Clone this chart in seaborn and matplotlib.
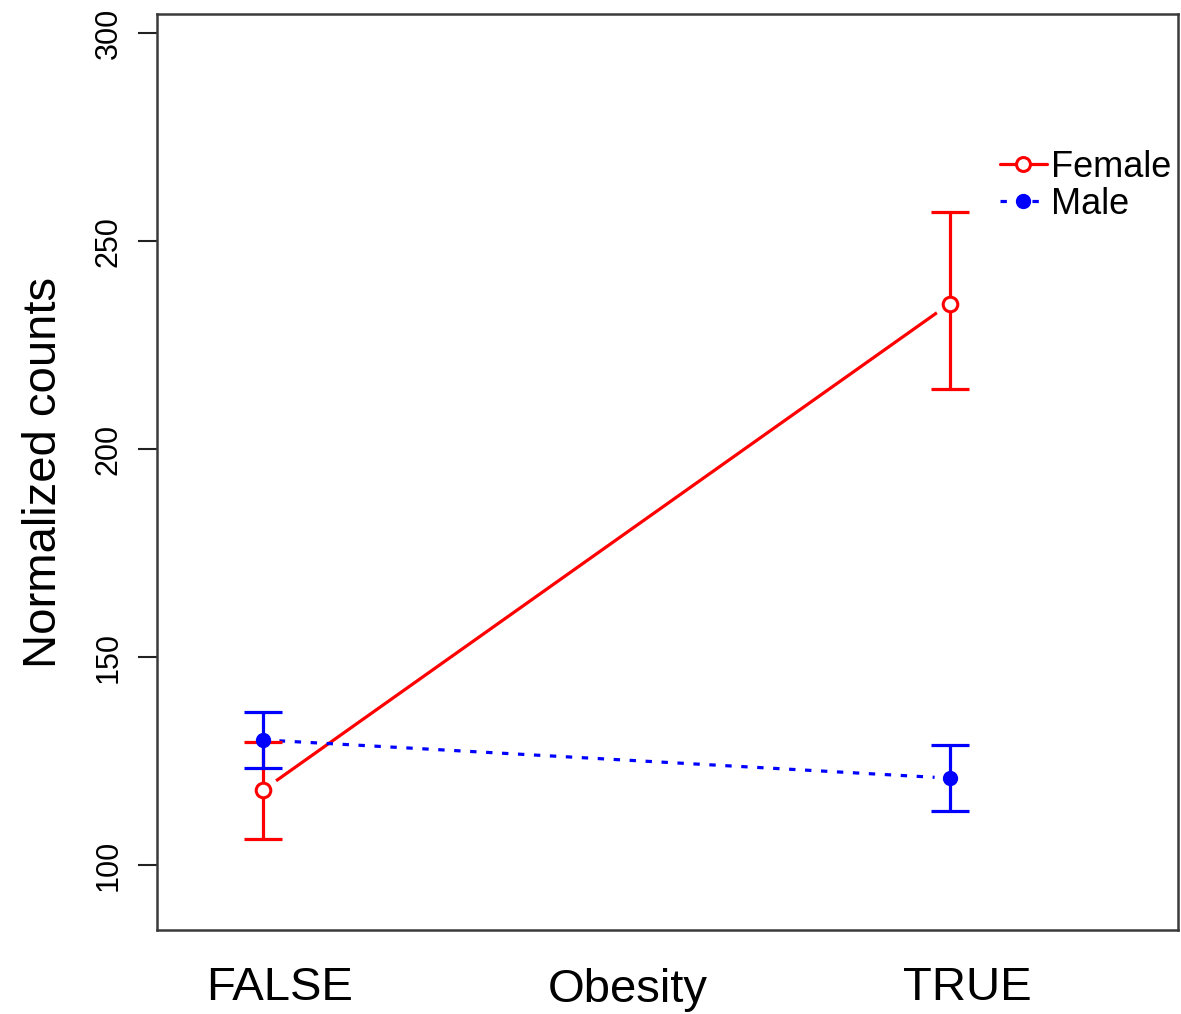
import matplotlib
matplotlib.use("Agg")
import matplotlib.pyplot as plt
import matplotlib.transforms as mtransforms
from matplotlib.lines import Line2D
import numpy as np
import pandas as pd
import seaborn as sns

# Group means and interval bounds of normalized counts by obesity status and sex
obesity = ["FALSE", "TRUE"]
sexes = ["Female", "Male"]
female_mean = [118.0, 235.0]
female_lower = [106.3, 214.4]
female_upper = [129.6, 257.0]
male_mean = [130.1, 120.9]
male_lower = [123.3, 113.0]
male_upper = [136.8, 128.9]
y_ticks = [100, 150, 200, 250, 300]

colors = {"Female": "#ff0000", "Male": "#0000ff"}
line_styles = {"Female": "", "Male": (2, 3)}

df = pd.DataFrame({
    "Obesity": obesity * 2,
    "Sex": ["Female"] * 2 + ["Male"] * 2,
    "counts": female_mean + male_mean,
    "lower": female_lower + male_lower,
    "upper": female_upper + male_upper,
})

sns.set_theme(style="white")
plt.rcParams["font.family"] = ["Liberation Sans", "DejaVu Sans"]
plt.rcParams["text.color"] = "black"
plt.rcParams["axes.labelcolor"] = "black"
plt.rcParams["xtick.color"] = "black"
plt.rcParams["ytick.color"] = "black"

fig = plt.figure(figsize=(11.81, 10.14), dpi=100)
ax = fig.add_axes([157 / 1181, 1 - 930 / 1014, 1021 / 1181, 916 / 1014])

# Connecting lines
sns.lineplot(data=df, x="Obesity", y="counts", hue="Sex", style="Sex",
             palette=colors, dashes=line_styles, sort=False, lw=2.3,
             legend=False, ax=ax, zorder=2)

xpos = {k: i for i, k in enumerate(obesity)}
for sex in sexes:
    sub = df[df["Sex"] == sex]
    x = sub["Obesity"].map(xpos).to_numpy()
    y = sub["counts"].to_numpy()
    # white gap around each point (type "b" look)
    ax.plot(x, y, ls="none", marker="o", ms=23, mfc="white", mec="none", zorder=3)
    yerr = np.vstack([y - sub["lower"].to_numpy(), sub["upper"].to_numpy() - y])
    ax.errorbar(x, y, yerr=yerr, fmt="none", ecolor=colors[sex], elinewidth=2.3,
                capsize=13.7, capthick=2.3, zorder=4)
    if sex == "Female":
        ax.plot(x, y, ls="none", marker="o", ms=10.5, mfc="white",
                mec=colors[sex], mew=2.2, zorder=5)
    else:
        ax.plot(x, y, ls="none", marker="o", ms=10, mfc=colors[sex],
                mec=colors[sex], mew=1, zorder=5)

ax.set_xlim(-0.154, 1.332)
ax.set_ylim(84.4, 304.6)
ax.set_yticks(y_ticks)
ax.set_yticklabels([str(v) for v in y_ticks])
ax.set_xticks([0, 1])
ax.set_xticklabels(obesity)

for side in ["left", "right", "top", "bottom"]:
    ax.spines[side].set_visible(True)
    ax.spines[side].set_color("#3a3a3a")
    ax.spines[side].set_linewidth(1.8)

ax.tick_params(axis="y", which="both", left=True, length=14, width=1.5,
               color="#222222", labelsize=22, labelrotation=90, pad=10)
for lab in ax.get_yticklabels():
    lab.set_va("center")
ax.tick_params(axis="x", length=0, labelsize=34, pad=26)
offset = mtransforms.ScaledTranslation(17 / 100, 0, fig.dpi_scale_trans)
for lab in ax.get_xticklabels():
    lab.set_transform(lab.get_transform() + offset)

ax.set_xlabel("Obesity", fontsize=34)
ax.xaxis.set_label_coords((628 - 157) / 1021, -(968 - 930) / 916)
ax.xaxis.label.set_va("top")
ax.set_ylabel("Normalized counts", fontsize=34)
ax.yaxis.set_label_coords((44 - 157) / 1021, 0.5)
ax.yaxis.label.set_va("center")

handles = [
    Line2D([], [], color=colors["Female"], lw=2.3, marker="o", ms=10,
           mfc="white", mec=colors["Female"], mew=2.2),
    Line2D([], [], color=colors["Male"], lw=2.3, ls=(0, (2, 3)), marker="o",
           ms=10, mfc=colors["Male"], mec=colors["Male"]),
]
fig.legend(handles, sexes, loc="upper left", frameon=False,
           bbox_to_anchor=(1000 / 1181, 1 - 150 / 1014), fontsize=26,
           handlelength=1.3, handletextpad=0.12, labelspacing=0.05,
           borderpad=0, borderaxespad=0)

fig.savefig("out.png", dpi=100, facecolor="white")
